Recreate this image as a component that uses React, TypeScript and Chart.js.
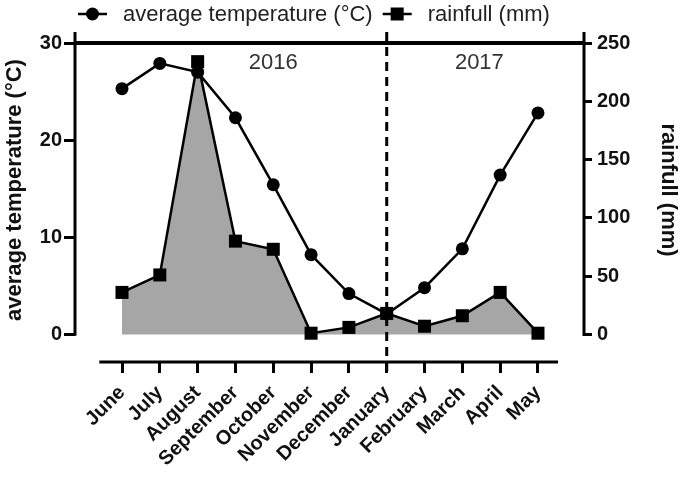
import React, { useEffect, useRef } from "react";
import { Chart, registerables } from "chart.js";
Chart.register(...registerables);

const months = ["June", "July", "August", "September", "October", "November", "December", "January", "February", "March", "April", "May"];
const temperature = [25.3, 27.9, 27.0, 22.3, 15.4, 8.2, 4.2, 2.1, 4.8, 8.8, 16.4, 22.8];
const rainfall = [36, 51, 234, 80, 73, 1, 6, 18, 7, 16, 36, 1];
const temperatureTicks = [0, 10, 20, 30];
const rainfallTicks = [0, 50, 100, 150, 200, 250];
const years = ["2016", "2017"];
const legendLabels = ["average temperature (\u00B0C)", "rainfull (mm)"];
const leftTitle = "average temperature (\u00B0C)";
const rightTitle = "rainfull (mm)";

const FONT = '"Liberation Sans", Arial, Helvetica, sans-serif';

export default function App() {
  const ref = useRef<HTMLCanvasElement>(null);

  useEffect(() => {
    const canvas = ref.current;
    if (!canvas) return;

    const decor = {
      id: "decor",
      afterDraw(chart: any) {
        const ctx = chart.ctx as CanvasRenderingContext2D;
        const xs = chart.scales.x;
        const yl = chart.scales.yL;
        const yr = chart.scales.yR;
        const { left, right, bottom } = chart.chartArea;
        const top = yl.getPixelForValue(30);
        const zeroL = yl.getPixelForValue(0);
        const zeroR = yr.getPixelForValue(0);
        const line = (x1: number, y1: number, x2: number, y2: number) => {
          ctx.beginPath();
          ctx.moveTo(x1, y1);
          ctx.lineTo(x2, y2);
          ctx.stroke();
        };
        ctx.save();
        ctx.strokeStyle = "#000";
        ctx.lineCap = "butt";
        ctx.lineWidth = 3;
        line(left, top - 11, left, zeroL + 1.5);
        line(right, top - 11, right, zeroR + 1.5);
        line(xs.getPixelForValue(-0.6), bottom, xs.getPixelForValue(11.53), bottom);
        ctx.lineWidth = 4;
        line(left, top, right, top);
        ctx.lineWidth = 3;
        const jan = xs.getPixelForValue(7);
        ctx.setLineDash([9, 6]);
        line(jan, top - 11, jan, bottom + 12);
        ctx.setLineDash([]);

        // year labels
        ctx.fillStyle = "#333";
        ctx.font = `22px ${FONT}`;
        ctx.textAlign = "center";
        ctx.textBaseline = "middle";
        ctx.fillText(years[0], xs.getPixelForValue(4), 63);
        ctx.fillText(years[1], xs.getPixelForValue(9.45), 63);

        // axis titles
        ctx.fillStyle = "#111";
        ctx.font = `bold 22px ${FONT}`;
        ctx.save();
        ctx.translate(15, 190);
        ctx.rotate(-Math.PI / 2);
        ctx.fillText(leftTitle, 0, 0);
        ctx.restore();
        ctx.save();
        ctx.translate(668, 190);
        ctx.rotate(Math.PI / 2);
        ctx.fillText(rightTitle, 0, 0);
        ctx.restore();

        // legend
        const ly = 14;
        ctx.font = `22px ${FONT}`;
        ctx.textAlign = "left";
        ctx.strokeStyle = "#000";
        ctx.lineWidth = 2.5;
        let lx = 78;
        line(lx, ly, lx + 29, ly);
        ctx.fillStyle = "#000";
        ctx.beginPath();
        ctx.arc(lx + 14.5, ly, 6.5, 0, Math.PI * 2);
        ctx.fill();
        ctx.fillStyle = "#222";
        ctx.fillText(legendLabels[0], lx + 45, ly + 1);
        lx = lx + 45 + ctx.measureText(legendLabels[0]).width + 10;
        line(lx, ly, lx + 29, ly);
        ctx.fillStyle = "#000";
        ctx.fillRect(lx + 14.5 - 6.5, ly - 6.5, 13, 13);
        ctx.fillStyle = "#222";
        ctx.fillText(legendLabels[1], lx + 45, ly + 1);
        ctx.restore();
      },
    };

    const chart = new Chart(canvas, {
      type: "line",
      data: {
        datasets: [
          {
            label: legendLabels[1],
            data: rainfall.map((v, i) => ({ x: i, y: v })),
            yAxisID: "yR",
            borderColor: "#000",
            borderWidth: 2.5,
            backgroundColor: "#a6a6a6",
            fill: { value: 0 },
            pointStyle: "rect",
            pointRadius: 9.2,
            pointBackgroundColor: "#000",
            pointBorderWidth: 0,
            tension: 0,
            order: 0,
            clip: false,
          } as any,
          {
            label: legendLabels[0],
            data: temperature.map((v, i) => ({ x: i, y: v })),
            yAxisID: "yL",
            borderColor: "#000",
            borderWidth: 2.5,
            fill: false,
            pointStyle: "circle",
            pointRadius: 6.5,
            pointBackgroundColor: "#000",
            pointBorderWidth: 0,
            tension: 0,
            order: 1,
            clip: false,
          } as any,
        ],
      },
      options: {
        responsive: false,
        animation: false,
        events: [],
        layout: { padding: { top: 43, left: 0, right: 0, bottom: 0 } },
        plugins: {
          legend: { display: false },
          tooltip: { enabled: false },
          filler: { drawTime: "beforeDatasetsDraw" } as any,
        },
        scales: {
          x: {
            type: "linear",
            min: -1.243,
            max: 12.217,
            afterBuildTicks: (s: any) => {
              s.ticks = months.map((_, i) => ({ value: i }));
            },
            afterFit: (s: any) => {
              s.height = 117;
            },
            ticks: {
              autoSkip: false,
              minRotation: 45,
              maxRotation: 45,
              padding: 8,
              color: "#111",
              font: { family: FONT, size: 20, weight: "bold" },
              callback: (v: any) => months[Math.round(Number(v))],
            },
            grid: { drawOnChartArea: false, drawTicks: true, tickLength: 11, lineWidth: 3, color: "#000" },
            border: { display: false },
          },
          yL: {
            type: "linear",
            position: "left",
            min: -2.85,
            max: 30,
            afterBuildTicks: (s: any) => {
              s.ticks = temperatureTicks.map((v) => ({ value: v }));
            },
            afterFit: (s: any) => {
              s.width = 75;
            },
            ticks: { padding: 2, color: "#111", font: { family: FONT, size: 20, weight: "bold" } },
            grid: { drawOnChartArea: false, drawTicks: true, tickLength: 11, lineWidth: 3, color: "#000" },
            border: { display: false },
          },
          yR: {
            type: "linear",
            position: "right",
            min: -23.7,
            max: 250,
            afterBuildTicks: (s: any) => {
              s.ticks = rainfallTicks.map((v) => ({ value: v }));
            },
            afterFit: (s: any) => {
              s.width = 101;
            },
            ticks: { padding: 5, color: "#111", font: { family: FONT, size: 20, weight: "bold" } },
            grid: { drawOnChartArea: false, drawTicks: true, tickLength: 8, lineWidth: 3, color: "#000" },
            border: { display: false },
          },
        },
      },
      plugins: [decor],
    });

    return () => chart.destroy();
  }, []);

  return (
    <div style={{ position: "absolute", left: 0, top: 0, width: 685, height: 479, background: "#fff" }}>
      <canvas ref={ref} width={685} height={479} style={{ display: "block" }} />
    </div>
  );
}
